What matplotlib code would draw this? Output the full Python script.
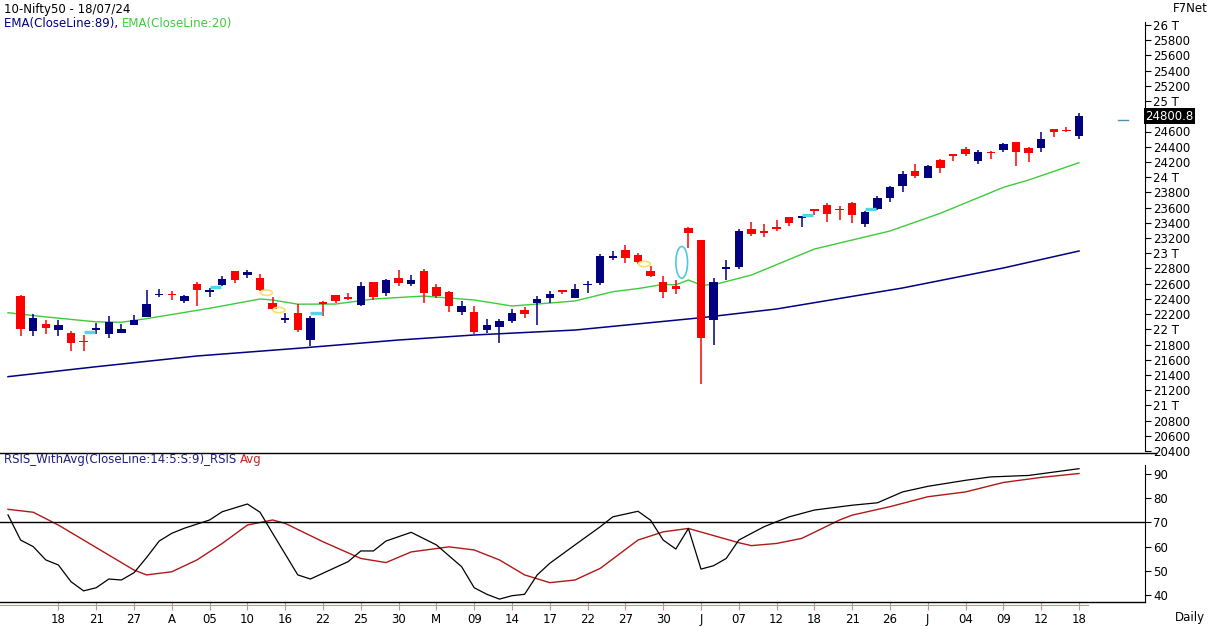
import numpy as np
import matplotlib.pyplot as plt
from matplotlib.patches import Ellipse
from matplotlib.lines import Line2D

W, H = 1212, 627

# trading days shown (2024), first one only carries the indicator lines
dates = ['03-12', '03-13', '03-14', '03-15', '03-18', '03-19', '03-20', '03-21', '03-22', '03-26',
         '03-27', '03-28', '04-01', '04-02', '04-03', '04-04', '04-05', '04-08', '04-09', '04-10',
         '04-12', '04-15', '04-16', '04-18', '04-19', '04-22', '04-23', '04-24', '04-25', '04-26',
         '04-29', '04-30', '05-02', '05-03', '05-06', '05-07', '05-08', '05-09', '05-10', '05-13',
         '05-14', '05-15', '05-16', '05-17', '05-18', '05-21', '05-22', '05-23', '05-24', '05-27',
         '05-28', '05-29', '05-30', '05-31', '06-03', '06-04', '06-05', '06-06', '06-07', '06-10',
         '06-11', '06-12', '06-13', '06-14', '06-18', '06-19', '06-20', '06-21', '06-24', '06-25',
         '06-26', '06-27', '06-28', '07-01', '07-02', '07-03', '07-04', '07-05', '07-08', '07-09',
         '07-10', '07-11', '07-12', '07-15', '07-16', '07-18']

# candles from 03-13 onwards
opens = [22432, 21983, 22065, 21990, 21946, 21844, 21990, 21932, 21948, 22054,
         22164, 22455, 22459, 22377, 22592, 22486, 22578, 22765, 22720, 22677,
         22339, 22125, 22212, 21862, 22350, 22447, 22422, 22317, 22620, 22476,
         22680, 22600, 22766, 22562, 22490, 22231, 22225, 21991, 22028, 22113,
         22256, 22340, 22415, 22513, 22405, 22577, 22614, 22931, 23039, 22977,
         22763, 22617, 22568, 23338, 23180, 22128, 22799, 22822, 23319, 23284,
         23344, 23481, 23470, 23570, 23629, 23586, 23661, 23382, 23578, 23723,
         23881, 24085, 23992, 24228, 24291, 24369, 24213, 24329, 24351, 24459,
         24388, 24387, 24630, 24615, 24543]
highs = [22447, 22205, 22121, 22124, 21978, 21931, 22081, 22181, 22073, 22194,
         22516, 22530, 22499, 22447, 22619, 22537, 22697, 22768, 22776, 22726,
         22427, 22214, 22327, 22180, 22376, 22448, 22476, 22626, 22620, 22656,
         22783, 22711, 22795, 22589, 22499, 22369, 22308, 22131, 22132, 22270,
         22298, 22432, 22502, 22514, 22591, 22630, 22994, 23026, 23111, 22999,
         22826, 22706, 22654, 23339, 23180, 22670, 22910, 23320, 23412, 23389,
         23442, 23481, 23490, 23579, 23664, 23624, 23668, 23558, 23754, 23889,
         24087, 24174, 24164, 24236, 24309, 24401, 24363, 24344, 24443, 24461,
         24402, 24592, 24635, 24661, 24838]
lows = [21906, 21918, 21932, 21917, 21711, 21710, 21941, 21883, 21948, 22053,
        22164, 22428, 22387, 22346, 22304, 22428, 22568, 22612, 22674, 22504,
        22260, 22079, 21962, 21778, 22180, 22349, 22384, 22305, 22386, 22442,
        22569, 22568, 22348, 22409, 22232, 22186, 21932, 21950, 21821, 22081,
        22152, 22055, 22346, 22466, 22405, 22483, 22577, 22908, 22871, 22859,
        22685, 22417, 22465, 23062, 21281, 21792, 22643, 22789, 23228, 23207,
        23296, 23354, 23349, 23498, 23412, 23442, 23398, 23350, 23562, 23671,
        23805, 23986, 23992, 24056, 24207, 24281, 24168, 24240, 24331, 24141,
        24193, 24331, 24522, 24587, 24504]
closes = [21998, 22147, 22023, 22056, 21817, 21839, 22012, 22097, 22005, 22124,
          22327, 22462, 22453, 22435, 22515, 22514, 22666, 22643, 22754, 22519,
          22273, 22148, 21996, 22147, 22336, 22368, 22402, 22570, 22420, 22643,
          22605, 22648, 22476, 22443, 22303, 22302, 21958, 22055, 22104, 22218,
          22201, 22404, 22466, 22502, 22529, 22598, 22968, 22957, 22932, 22888,
          22705, 22489, 22531, 23264, 21885, 22620, 22821, 23290, 23259, 23265,
          23323, 23399, 23476, 23558, 23516, 23567, 23501, 23538, 23721, 23869,
          24045, 24011, 24142, 24124, 24287, 24302, 24324, 24321, 24433, 24324,
          24316, 24502, 24587, 24613, 24801]
last_close = 24800.8

ema89_dates = ['03-12', '03-21', '04-04', '04-18', '04-30', '05-09', '05-21', '06-04', '06-12',
               '06-27', '07-09', '07-18']
ema89 = [21377, 21508, 21649, 21750, 21859, 21925, 21990, 22152, 22267, 22543, 22806, 23029]

ema20_dates = ['03-12', '03-14', '03-19', '03-21', '03-26', '03-28', '04-05', '04-12', '04-15',
               '04-18', '04-23', '04-26', '05-03', '05-09', '05-14', '05-16', '05-21', '05-24',
               '05-28', '05-30', '05-31', '06-03', '06-04', '06-05', '06-10', '06-18', '06-26',
               '07-02', '07-09', '07-11', '07-18']
ema20 = [22218, 22180, 22130, 22098, 22092, 22140, 22276, 22398, 22385, 22330, 22332, 22398,
         22437, 22385, 22306, 22332, 22372, 22494, 22535, 22590, 22585, 22648, 22582, 22585,
         22713, 23055, 23292, 23525, 23866, 23962, 24190]

rsi_dates = ['03-12', '03-13', '03-14', '03-15', '03-18', '03-19', '03-20', '03-21', '03-22',
             '03-26', '03-27', '03-28', '04-01', '04-02', '04-03', '04-05', '04-08', '04-10',
             '04-12', '04-15', '04-18', '04-19', '04-22', '04-24', '04-25', '04-26', '04-29',
             '05-02', '05-06', '05-08', '05-09', '05-10', '05-13', '05-14', '05-15', '05-16',
             '05-17', '05-21', '05-23', '05-24', '05-28', '05-29', '05-30', '05-31', '06-03',
             '06-04', '06-05', '06-06', '06-07', '06-11', '06-12', '06-13', '06-18', '06-21',
             '06-25', '06-27', '07-01', '07-04', '07-08', '07-11', '07-15', '07-18']
rsi = [73.1, 62.7, 60.0, 54.5, 52.4, 45.5, 41.7, 43.0, 46.6, 46.2, 49.2, 55.5, 62.3, 65.5,
       67.6, 71.0, 74.4, 77.6, 74.2, 65.5, 48.3, 46.6, 49.0, 53.8, 58.2, 58.2, 62.3, 65.9,
       60.7, 51.7, 43.0, 40.3, 38.3, 39.7, 40.3, 48.3, 53.1, 60.7, 68.2, 72.3, 74.6, 70.9,
       62.7, 59.0, 67.5, 50.7, 52.1, 55.1, 62.7, 68.2, 70.3, 72.3, 75.1, 77.1, 78.1, 82.6,
       84.9, 87.4, 88.8, 89.4, 90.8, 92.2]

avg_dates = ['03-12', '03-14', '03-18', '03-20', '03-22', '03-27', '03-28', '04-02', '04-04',
             '04-08', '04-10', '04-15', '04-16', '04-22', '04-25', '04-29', '05-02', '05-07',
             '05-09', '05-13', '05-15', '05-17', '05-21', '05-23', '05-28', '05-30', '06-03',
             '06-07', '06-10', '06-12', '06-14', '06-20', '06-21', '06-26', '07-01', '07-04',
             '07-09', '07-12', '07-18']
rsi_avg = [75.4, 74.2, 68.9, 62.7, 56.5, 50.3, 48.3, 49.6, 54.5, 61.3, 68.9, 71.0, 69.6, 62.0,
           55.1, 53.4, 57.8, 59.9, 58.6, 54.5, 48.3, 45.1, 46.2, 51.0, 62.7, 66.1, 67.5, 61.6,
           60.4, 61.3, 63.4, 71.0, 73.0, 76.5, 80.6, 82.6, 86.5, 88.6, 90.2]

# pattern markers
cyan_dates = ['03-20', '04-05', '04-19', '06-14', '06-24']
cyan_prices = [21960, 22560, 22210, 23502, 23577]
yellow_dates = ['04-12', '04-15', '05-28']
yellow_prices = [22481, 22253, 22858]

price_ticks = list(range(20400, 26001, 200))
rsi_ticks = [40, 50, 60, 70, 80, 90]

BLUE = '#000080'
RED = '#ff0000'


def box(x0, y0, x1, y1):
    return [x0 / W, 1 - y1 / H, (x1 - x0) / W, (y1 - y0) / H]


def px_to_price(y):
    return 26000 - (y - 25) * 5600 / 426


def px_to_rsi(y):
    return 90 - (y - 474) / 2.42


fig = plt.figure(figsize=(W / 100, H / 100), dpi=100)
ax = fig.add_axes(box(0, 0, 1145, 453))
rx = fig.add_axes(box(0, 453, 1145, 602), sharex=ax)

pos = {d: i for i, d in enumerate(dates)}
xlim = ((0 - 8) / 12.6, (1145 - 8) / 12.6)

# candles
ci = np.arange(1, len(dates))
o, h, l, c = map(np.array, (opens, highs, lows, closes))
cols = [BLUE if cc >= oo else RED for oo, cc in zip(o, c)]
bottom = np.minimum(o, c)
height = np.maximum(np.abs(c - o), 22)
ax.vlines(ci, l, h, colors=cols, lw=1.1, zorder=3)
ax.bar(ci, height, bottom=bottom - (height - np.abs(c - o)) / 2, width=0.66,
       color=cols, linewidth=0, zorder=4)

ax.plot([pos[d] for d in ema89_dates], ema89, color=BLUE, lw=1.1, zorder=2)
ax.plot([pos[d] for d in ema20_dates], ema20, color='#3ccc3c', lw=1.0, zorder=2)

for d, p in zip(cyan_dates, cyan_prices):
    ax.plot([pos[d], pos[d] + 0.9], [p, p], color='#50d8e8', lw=2.4, zorder=5,
            solid_capstyle='butt')
for d, p in zip(yellow_dates, yellow_prices):
    ax.add_patch(Ellipse((pos[d] + 0.5, p), 0.95, 70, fill=False, ec='#f2e070', lw=1.2, zorder=5))
ax.add_patch(Ellipse((pos['05-31'] + 0.47, 22880), 0.93, 417, fill=False, ec='#50c8e0',
                     lw=1.2, zorder=5))
ax.plot([88.1, 88.9], [24751, 24751], color='#4a90b8', lw=1.0, clip_on=False)

ax.set_xlim(*xlim)
ax.set_ylim(px_to_price(453), px_to_price(0))
for s in ['left', 'top']:
    ax.spines[s].set_visible(False)
ax.spines['bottom'].set_visible(False)
ax.spines['right'].set_bounds(20400, px_to_price(22))
ax.spines['right'].set_linewidth(0.8)
ax.yaxis.tick_right()
ax.set_yticks(price_ticks)
ax.set_yticklabels(['' if t == 24800 else (f'{t // 1000} T' if t % 1000 == 0 else str(t))
                    for t in price_ticks])
ax.tick_params(axis='y', direction='out', length=4, width=0.8, pad=2, labelsize=8.5)
ax.tick_params(axis='x', bottom=False, labelbottom=False)
ax.text(1.0, last_close, f'{last_close:.1f}', transform=ax.get_yaxis_transform(),
        ha='left', va='center', fontsize=8.5, color='white',
        bbox=dict(boxstyle='square,pad=0.12', fc='black', ec='none'),
        )
# horizontal separator under price panel
fig.add_artist(Line2D([0, 1156 / W], [1 - 453 / H] * 2, color='black', lw=1.0))

# RSI panel
rx.plot([pos[d] for d in avg_dates], rsi_avg, color='#b01818', lw=1.0, zorder=2)
rx.plot([pos[d] for d in rsi_dates], rsi, color='black', lw=0.9, zorder=3)
rx.axhline(70, color='black', lw=1.0)
rx.set_ylim(px_to_rsi(602), px_to_rsi(453))
rx.spines['left'].set_visible(False)
rx.spines['top'].set_visible(False)
rx.spines['bottom'].set_linewidth(1.0)
rx.spines['right'].set_bounds(px_to_rsi(602), px_to_rsi(465))
rx.spines['right'].set_linewidth(0.8)
rx.yaxis.tick_right()
rx.set_yticks(rsi_ticks)
rx.set_yticklabels([str(t) for t in rsi_ticks])
rx.tick_params(axis='y', direction='out', length=4, width=0.8, pad=2, labelsize=8.5)

tick_idx = list(range(4, len(dates), 3))
tick_lab = []
prev_month = None
for i in tick_idx:
    m, d = dates[i].split('-')
    if prev_month is not None and m != prev_month:
        tick_lab.append({'04': 'A', '05': 'M', '06': 'J', '07': 'J'}[m])
    else:
        tick_lab.append(d)
    prev_month = m
rx.set_xticks(tick_idx)
rx.set_xticklabels(tick_lab)
rx.tick_params(axis='x', direction='out', length=6, width=0.8, color='#d09090', pad=2,
               labelsize=8.5)
rx.set_xlim(*xlim)
fig.add_artist(Line2D([0, 1088 / W], [1 - 605 / H] * 2, color='#d09090', lw=0.8))

# texts
fig.text(4 / W, 1 - 9 / H, '10-Nifty50 - 18/07/24', fontsize=8.5, va='center', ha='left')
t1 = fig.text(4 / W, 1 - 24 / H, 'EMA(CloseLine:89), ', fontsize=8.5, va='center', ha='left',
              color=BLUE)
r1 = fig.text(4 / W, 1 - 460 / H, 'RSIS_WithAvg(CloseLine:14:5:S:9)_RSIS ', fontsize=8.5,
              va='center', ha='left', color='#202080')
fig.canvas.draw()
rend = fig.canvas.get_renderer()
e = t1.get_window_extent(rend)
fig.text(e.x1 / W, 1 - 24 / H, 'EMA(CloseLine:20)', fontsize=8.5, va='center', ha='left',
         color='#3ccc3c')
e = r1.get_window_extent(rend)
fig.text(e.x1 / W, 1 - 460 / H, 'Avg', fontsize=8.5, va='center', ha='left', color='#d02020')
fig.text(1190 / W, 1 - 8 / H, 'F7Net', fontsize=8.5, va='center', ha='center')
fig.text(1190 / W, 1 - 618 / H, 'Daily', fontsize=8.5, va='center', ha='center')

fig.savefig('out.png', dpi=100)
